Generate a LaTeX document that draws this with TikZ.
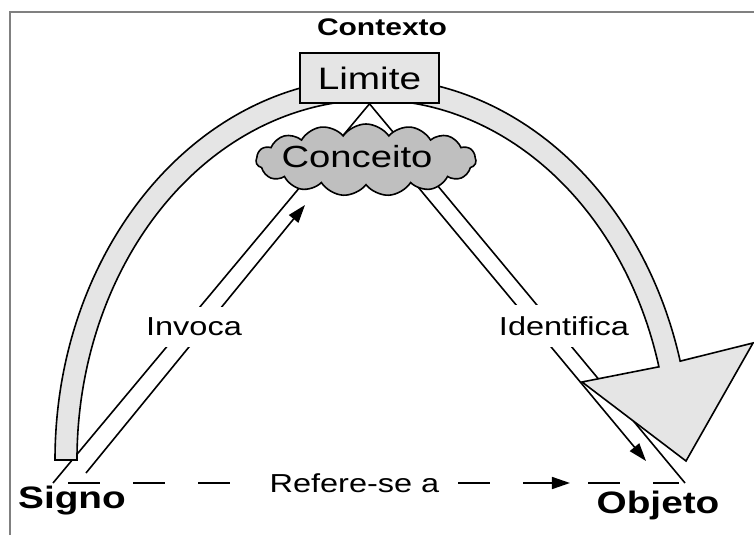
\documentclass[tikz,border=0pt]{standalone}
\usepackage{fontspec}
\setmainfont[FakeStretch=1.25]{Liberation Sans}
\usetikzlibrary{shapes.symbols,arrows.meta,decorations.markings,backgrounds}

\begin{document}
\begin{tikzpicture}[x=0.5pt,y=-0.5pt]
\tikzstyle{box} = [rectangle, draw=black, line width=0.8pt, fill=gray!20, minimum width=69.5pt, minimum height=25pt, inner sep=0pt, font=\fontsize{15.5}{18}\selectfont]
\tikzstyle{idea} = [cloud, cloud puffs=15, cloud puff arc=110, cloud ignores aspect, draw=black, line width=0.8pt, fill=gray!50, minimum width=110pt, minimum height=36pt, inner sep=0pt]
\tikzstyle{term} = [anchor=base, inner sep=0pt, font=\bfseries\fontsize{15.5}{18}\selectfont]
\tikzstyle{relation} = [fill=white, inner xsep=4pt, inner ysep=5.5pt, font=\fontsize{13}{15}\selectfont]
\tikzstyle{line} = [line width=0.8pt]
\tikzstyle{arrow} = [line width=0.8pt, -{Triangle[length=9pt,width=6pt]}]
\tikzstyle{band} = [draw=black, line width=0.8pt, fill=gray!20]

\useasboundingbox (0,0) rectangle (754,535);
\draw[gray, line width=1pt] (10,535) -- (10,12) -- (754,12);

\path
    (382,36) node[term, font=\bfseries\fontsize{12}{14}\selectfont] (contexto) {Contexto}
    (369.5,78) node[box] (limite) {Limite}
    (366,160) node[idea] (conceito) {}
    (357,157) node[font=\fontsize{15.3}{18}\selectfont] (conceitotext) {Conceito}
    (72,508) node[term] (signo) {Signo}
    (658,513) node[term] (objeto) {Objeto}
    (194,327) node[relation] (invoca) {Invoca}
    (564,326) node[relation] (identifica) {Identifica};

\coordinate (signoedge) at (53,483);
\coordinate (objetoedge) at (685,483);
\coordinate (invocafrom) at (86,473);
\coordinate (invocato) at (305,205);
\coordinate (identfrom) at (418,187);
\coordinate (identto) at (646,461);

\begin{pgfonlayer}{background}
    \draw [line] (signoedge) -- (limite.south) -- (objetoedge);
    \draw [arrow] (invocafrom) -- (invocato);
    \draw [arrow] (identfrom) -- (identto);
    \draw [line, dash pattern=on 16pt off 16.5pt, shorten <=7.5pt, shorten >=3pt,
        postaction={decorate, decoration={markings,
            mark=at position 0.818 with {\arrow{Triangle[length=9pt,width=6pt]}}}}]
        (signoedge) -- node[relation, pos=0.477] (refere) {Refere-se a} (objetoedge);
    % the big arrow around the triangle
    \draw [band] (55,460) arc[start angle=180, end angle=345, x radius=318, y radius=382]
        -- (753,343) -- (686,461) -- (582,382) -- (658.9,366.8)
        arc[start angle=345, end angle=180, x radius=296, y radius=360] -- cycle;
\end{pgfonlayer}
\end{tikzpicture}
\end{document}
